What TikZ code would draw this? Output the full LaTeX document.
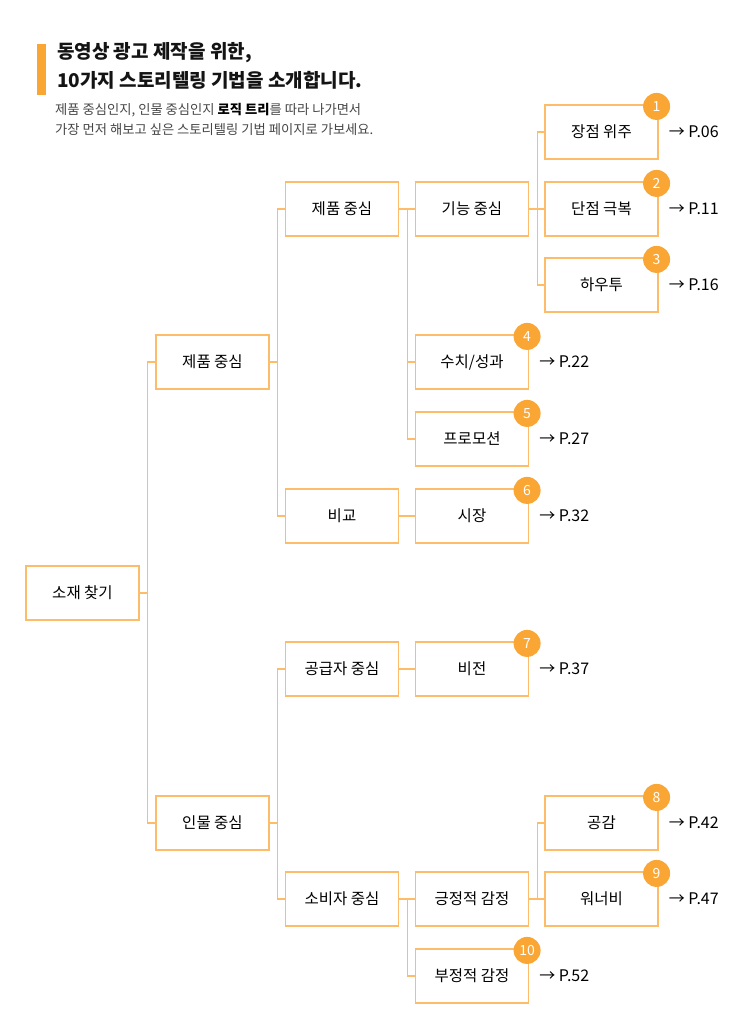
\documentclass[tikz,border=0pt]{standalone}
\usepackage{fontspec}
\setmainfont{Noto Sans CJK KR}
\usetikzlibrary{positioning}
\definecolor{lineorange}{RGB}{253,188,105}
\definecolor{badgeorange}{RGB}{250,166,52}
\definecolor{subgray}{RGB}{70,70,70}
\definecolor{titleblack}{RGB}{20,20,20}

\begin{document}
\begin{tikzpicture}[x=1pt,y=-1pt,
  box/.style={draw=lineorange, line width=1.2pt, fill=white, minimum width=113pt,
    minimum height=54pt, inner sep=0pt, font=\fontsize{15.5}{17}\selectfont},
  link/.style={draw=lineorange, line width=1.2pt},
  badge/.style={circle, fill=badgeorange, text=white, minimum size=27pt,
    inner sep=0pt, font=\fontsize{14}{15}\selectfont},
  pagelbl/.style={inner sep=0pt, font=\fontsize{16}{17}\selectfont}]
\useasboundingbox (0,0) rectangle (742,1013);

% header
\fill[badgeorange] (37,44) rectangle (46,95);
\node[anchor=west, inner sep=0pt, text=titleblack, font=\bfseries\fontsize{19}{22}\selectfont] (title1) at (57,53) {동영상 광고 제작을 위한,};
\node[anchor=west, inner sep=0pt, text=titleblack, font=\bfseries\fontsize{19}{22}\selectfont] (title2) at (57,80) {10가지 스토리텔링 기법을 소개합니다.};
\node[anchor=west, inner sep=0pt, text=subgray, font=\fontsize{13.3}{15}\selectfont] (sub1) at (55,110) {제품 중심인지, 인물 중심인지 \textcolor{black}{\textbf{로직 트리}}를 따라 나가면서};
\node[anchor=west, inner sep=0pt, text=subgray, font=\fontsize{13.3}{15}\selectfont] (sub2) at (55,130) {가장 먼저 해보고 싶은 스토리텔링 기법 페이지로 가보세요.};

% tree
\node[box] (root) at (82.5,593) {소재 찾기};
\node[box] (prod) at (212.5,362) {제품 중심};
\node[box] (pers) at (212.5,823) {인물 중심};
\node[box] (prod2) at (342,209) {제품 중심};
\node[box] (comp) at (342,516) {비교};
\node[box] (supp) at (342,669) {공급자 중심};
\node[box] (cons) at (342,899) {소비자 중심};
\node[box] (func) at (472,209) {기능 중심};
\node[box] (nums) at (472,362) {수치/성과};
\node[box] (promo) at (472,439) {프로모션};
\node[box] (market) at (472,516) {시장};
\node[box] (vision) at (472,669) {비전};
\node[box] (posi) at (472,899) {긍정적 감정};
\node[box] (nega) at (472,976) {부정적 감정};
\node[box] (merit) at (601.5,132) {장점 위주};
\node[box] (flaw) at (601.5,209) {단점 극복};
\node[box] (howto) at (601.5,285) {하우투};
\node[box] (empa) at (601.5,823) {공감};
\node[box] (wanna) at (601.5,899) {워너비};

\foreach \a/\b in {root/prod, root/pers, prod/prod2, prod/comp, prod2/func,
  prod2/nums, prod2/promo, func/merit, func/flaw, func/howto, comp/market,
  pers/supp, pers/cons, supp/vision, cons/posi, cons/nega, posi/empa, posi/wanna}
  \draw[link] (\a.east) -- ++(8,0) |- (\b.west);

% badges and pages
\foreach \b/\n/\p in {merit/1/06, flaw/2/11, howto/3/16, nums/4/22, promo/5/27,
  market/6/32, vision/7/37, empa/8/42, wanna/9/47, nega/10/52} {
  \node[badge] (badge\n) at ([shift={(-2,2)}]\b.north east) {\n};
  \node[pagelbl, right=10pt of \b] (page\n) {→ P.\p};
}
\end{tikzpicture}
\end{document}
